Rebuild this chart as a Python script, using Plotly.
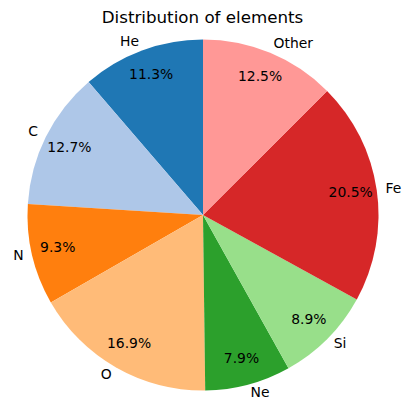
import math
import plotly.graph_objects as go

elements = ["He", "C", "N", "O", "Ne", "Si", "Fe", "Other"]
shares = [11.3, 12.7, 9.3, 16.9, 7.9, 8.9, 20.5, 12.5]
colors = ["#1f77b4", "#aec7e8", "#ff7f0e", "#ffbb78", "#2ca02c", "#98df8a", "#d62728", "#ff9896"]

W = H = 411
cx, cy, R = 203, 215, 175.5
PCT_DIST, LABEL_DIST, RMAX = 0.85, 1.05, 1.1
Rr = R * RMAX
dom_x = [(cx - Rr) / W, (cx + Rr) / W]
dom_y = [max(0.0, 1 - (cy + Rr) / H), 1 - (cy - Rr) / H]

total = sum(shares)
# wedge angular widths and mid-angles (degrees counterclockwise from 12 o'clock)
widths = [s / total * 360 for s in shares]
mid = []
acc = 0.0
for w in widths:
    mid.append(acc + w / 2)
    acc += w

label_pos = ["middle right" if -math.sin(math.radians(m)) >= 0 else "middle left" for m in mid]

font = dict(family="DejaVu Sans", size=13.9, color="black")

fig = go.Figure()
fig.add_trace(go.Barpolar(
    r=[1] * len(shares), theta=mid, width=widths,
    marker=dict(color=colors, line=dict(width=0)),
    showlegend=False, hovertext=[f"{e}: {s:.1f}%" for e, s in zip(elements, shares)], hoverinfo="text",
))
fig.add_trace(go.Scatterpolar(
    r=[PCT_DIST] * len(shares), theta=mid, mode="text",
    text=[f"{s:.1f}%" for s in shares], textposition="middle center",
    textfont=font, showlegend=False, hoverinfo="skip",
))
fig.add_trace(go.Scatterpolar(
    r=[LABEL_DIST] * len(shares), theta=mid, mode="text",
    text=elements, textposition=label_pos,
    textfont=font, showlegend=False, hoverinfo="skip", cliponaxis=False,
))
fig.update_layout(
    width=W, height=H, margin=dict(l=0, r=0, t=0, b=0),
    paper_bgcolor="white", plot_bgcolor="white",
    polar=dict(
        domain=dict(x=dom_x, y=dom_y), bgcolor="rgba(0,0,0,0)", bargap=0,
        radialaxis=dict(range=[0, RMAX], visible=False),
        angularaxis=dict(rotation=90, direction="counterclockwise", visible=False),
    ),
    title=dict(text="Distribution of elements", x=202.5 / W, xanchor="center", y=1 - 17 / H, yanchor="middle",
               font=dict(family="DejaVu Sans", size=16.7, color="black")),
)
fig.write_html("out.html")
